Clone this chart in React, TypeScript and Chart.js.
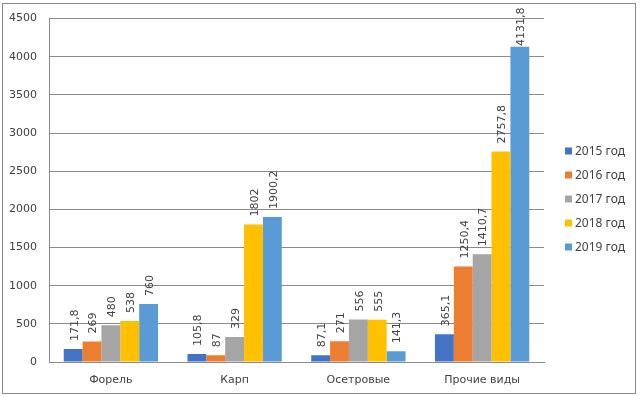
import React, { useEffect, useRef } from 'react';
import { Chart, registerables } from 'chart.js';

Chart.register(...registerables);

const categories = ['Форель', 'Карп', 'Осетровые', 'Прочие виды'];
const seriesNames = ['2015 год', '2016 год', '2017 год', '2018 год', '2019 год'];
const values2015 = [171.8, 105.8, 87.1, 365.1];
const values2016 = [269, 87, 271, 1250.4];
const values2017 = [480, 329, 556, 1410.7];
const values2018 = [538, 1802, 555, 2757.8];
const values2019 = [760, 1900.2, 141.3, 4131.8];
const seriesColors = ['#4472C4', '#ED7D31', '#A5A5A5', '#FFC000', '#5B9BD5'];
const yMin = 0;
const yMax = 4500;
const yStep = 500;

const TEXT = '#404040';
const GRID = '#8a8a8a';
const AXIS_FONT = '"DejaVu Sans", Verdana, sans-serif';
const LEGEND_FONT = '"Noto Sans", sans-serif';

const fmt = (v: number) => String(v).replace('.', ',');

const labelPlugin = {
  id: 'barLabels',
  afterDatasetsDraw(chart: any) {
    const ctx = chart.ctx;
    ctx.save();
    ctx.font = `11px ${AXIS_FONT}`;
    ctx.fillStyle = TEXT;
    ctx.textAlign = 'left';
    ctx.textBaseline = 'middle';
    chart.data.datasets.forEach((ds: any, i: number) => {
      const meta = chart.getDatasetMeta(i);
      meta.data.forEach((el: any, j: number) => {
        const txt = fmt(ds.data[j]);
        const w = ctx.measureText(txt).width;
        let start = el.y - 8;
        const minStart = chart.chartArea.top - 11 + w;
        if (start < minStart) start = minStart;
        ctx.save();
        ctx.translate(el.x + 1.5, start);
        ctx.rotate(-Math.PI / 2);
        ctx.fillText(txt, 0, 0);
        ctx.restore();
      });
    });
    ctx.restore();
  },
};

const legendPlugin = {
  id: 'sideLegend',
  afterDraw(chart: any) {
    const ctx = chart.ctx;
    ctx.save();
    ctx.font = `12px ${LEGEND_FONT}`;
    ctx.textBaseline = 'middle';
    ctx.textAlign = 'left';
    const n = chart.data.datasets.length;
    const spacing = 24;
    const cy = chart.height / 2 + 1;
    const x0 = chart.chartArea.right + 21;
    chart.data.datasets.forEach((ds: any, i: number) => {
      const y = cy + (i - (n - 1) / 2) * spacing;
      ctx.fillStyle = ds.backgroundColor;
      ctx.fillRect(x0, y - 3.5, 7, 7);
      ctx.fillStyle = TEXT;
      ctx.fillText(ds.label, x0 + 10, y + 0.5);
    });
    ctx.restore();
  },
};

const borderPlugin = {
  id: 'outerBorder',
  beforeDraw(chart: any) {
    const ctx = chart.ctx;
    ctx.save();
    ctx.fillStyle = '#ffffff';
    ctx.fillRect(0, 0, chart.width, chart.height);
    ctx.strokeStyle = '#8a8a8a';
    ctx.lineWidth = 1;
    ctx.strokeRect(2.5, 3.5, 633, 390);
    ctx.restore();
  },
};

export default function App() {
  const ref = useRef<HTMLCanvasElement | null>(null);

  useEffect(() => {
    document.body.style.margin = '0';
    if (!ref.current) return;
    const seriesValues = [values2015, values2016, values2017, values2018, values2019];
    const chart = new Chart(ref.current, {
      type: 'bar',
      data: {
        labels: categories,
        datasets: seriesNames.map((name, i) => ({
          label: name,
          data: seriesValues[i],
          backgroundColor: seriesColors[i],
          borderWidth: 0,
          categoryPercentage: 0.762,
          barPercentage: 1,
        })),
      },
      options: {
        responsive: false,
        animation: false,
        devicePixelRatio: 1,
        layout: { padding: { top: 17, right: 96, bottom: 0, left: 0 } },
        plugins: {
          legend: { display: false },
          tooltip: { enabled: false },
          title: { display: false },
        },
        scales: {
          x: {
            afterFit(scale: any) {
              scale.height = 34;
            },
            grid: { display: false, drawTicks: false },
            border: { display: true, color: GRID },
            ticks: {
              color: TEXT,
              font: { family: AXIS_FONT, size: 11 },
              padding: 12,
              maxRotation: 0,
            },
          },
          y: {
            min: yMin,
            max: yMax,
            afterFit(scale: any) {
              scale.width = 49;
            },
            grid: { color: GRID, drawTicks: false },
            border: { display: true, color: GRID },
            ticks: {
              stepSize: yStep,
              color: TEXT,
              font: { family: AXIS_FONT, size: 11 },
              padding: 12,
              callback: (v: any) => String(v),
            },
          },
        },
      },
      plugins: [borderPlugin, labelPlugin, legendPlugin],
    });
    return () => chart.destroy();
  }, []);

  return (
    <div style={{ width: 640, height: 396, position: 'relative' }}>
      <canvas ref={ref} width={640} height={396} style={{ display: 'block' }} />
    </div>
  );
}
